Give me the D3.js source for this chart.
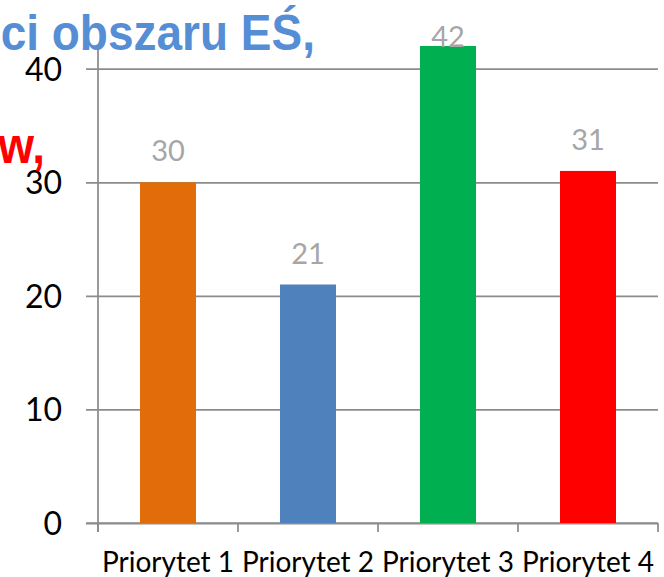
<!DOCTYPE html>
<html lang="pl">
<head>
    <meta charset="UTF-8">
    <title>Priorytety</title>
    <style type="text/css">
        body { margin: 0; background: #fff; }
        svg { display: block; }
        .tick text { font-family: Lato, "Open Sans", sans-serif; }
    </style>
</head>
<body>
<script src="https://d3js.org/d3.v7.min.js"></script>
<script>
    // data
    var categories = ['Priorytet 1', 'Priorytet 2', 'Priorytet 3', 'Priorytet 4'];
    var values = [30, 21, 42, 31];
    var barColors = ['#e36c0a', '#4f81bd', '#00b050', '#ff0000'];
    var yTicks = [0, 10, 20, 30, 40];

    var width = 664,
        height = 577,
        plotLeft = 98,
        plotRight = 658,
        plotTop = 46,
        plotBottom = 523,
        axisColor = '#8c8c8c';

    var svg = d3.select('body').append('svg')
        .attr('width', width)
        .attr('height', height);

    var xScale = d3.scaleBand()
        .domain(categories)
        .range([plotLeft, plotRight])
        .paddingInner(0.6)
        .paddingOuter(0.3);

    var yScale = d3.scaleLinear()
        .domain([0, 42])
        .range([plotBottom, plotTop]);

    // gridlines + y labels
    var yAxis = d3.axisLeft(yScale)
        .tickValues(yTicks)
        .tickSizeInner(-(plotRight - plotLeft))
        .tickSizeOuter(0)
        .tickPadding(36);

    var gy = svg.append('g')
        .attr('class', 'yAxis')
        .attr('transform', 'translate(' + plotLeft + ',0)')
        .call(yAxis);

    gy.select('.domain').remove();
    gy.selectAll('.tick line')
        .attr('x1', -12)
        .attr('stroke', axisColor)
        .attr('stroke-width', 1.75);
    gy.selectAll('.tick text')
        .attr('fill', '#000')
        .attr('font-size', 32)
        .attr('x', -36)
        .attr('dy', '0.36em');

    // vertical axis line
    svg.append('line')
        .attr('x1', plotLeft).attr('x2', plotLeft)
        .attr('y1', yScale.range()[1]).attr('y2', plotBottom + 9)
        .attr('stroke', axisColor)
        .attr('stroke-width', 1.75);

    // x axis
    var xAxis = d3.axisBottom(xScale).tickSize(0);
    var gx = svg.append('g')
        .attr('class', 'xAxis')
        .attr('transform', 'translate(0,' + plotBottom + ')')
        .call(xAxis);

    gx.select('.domain').remove();
    gx.selectAll('.tick text')
        .attr('fill', '#000')
        .attr('font-size', 28)
        .attr('y', 49)
        .attr('dy', 0);

    svg.append('line')
        .attr('x1', plotLeft - 12).attr('x2', plotRight)
        .attr('y1', plotBottom).attr('y2', plotBottom)
        .attr('stroke', axisColor)
        .attr('stroke-width', 1.75);

    var bounds = categories.map(function(c) {
        return xScale(c) - xScale.step() * xScale.paddingOuter();
    });
    bounds.push(plotRight);

    svg.selectAll('line.xtick')
        .data(bounds)
        .enter().append('line')
        .attr('class', 'xtick')
        .attr('x1', function(d) { return d; })
        .attr('x2', function(d) { return d; })
        .attr('y1', plotBottom)
        .attr('y2', plotBottom + 9)
        .attr('stroke', axisColor)
        .attr('stroke-width', 1.75);

    // bars
    svg.selectAll('rect.bar')
        .data(values)
        .enter().append('rect')
        .attr('class', 'bar')
        .attr('x', function(d, i) { return xScale(categories[i]); })
        .attr('y', function(d) { return yScale(d); })
        .attr('width', xScale.bandwidth())
        .attr('height', function(d) { return plotBottom - yScale(d); })
        .attr('fill', function(d, i) { return barColors[i]; });

    // value labels
    svg.selectAll('text.val')
        .data(values)
        .enter().append('text')
        .attr('class', 'val')
        .attr('x', function(d, i) { return xScale(categories[i]) + xScale.bandwidth() / 2; })
        .attr('y', function(d) { return Math.max(yScale(d) - 21, plotTop + 1); })
        .attr('text-anchor', 'middle')
        .attr('font-family', 'Lato, "Open Sans", sans-serif')
        .attr('font-size', 29)
        .attr('fill', '#a6a6a6')
        .text(function(d) { return d; });

    // cropped slide title text (slightly condensed bold Arial)
    function titleText(str, xEnd, y, color) {
        svg.append('text')
            .attr('transform', 'translate(' + xEnd + ',' + y + ') scale(0.92,1)')
            .attr('text-anchor', 'end')
            .attr('font-family', '"Liberation Sans", Arial, sans-serif')
            .attr('font-weight', 'bold')
            .attr('font-size', 50)
            .attr('fill', color)
            .text(str);
    }
    titleText('ci obszaru EŚ,', 315, 50, '#558ed5');
    titleText('w,', 45, 163, '#ff0000');
</script>
</body>
</html>
